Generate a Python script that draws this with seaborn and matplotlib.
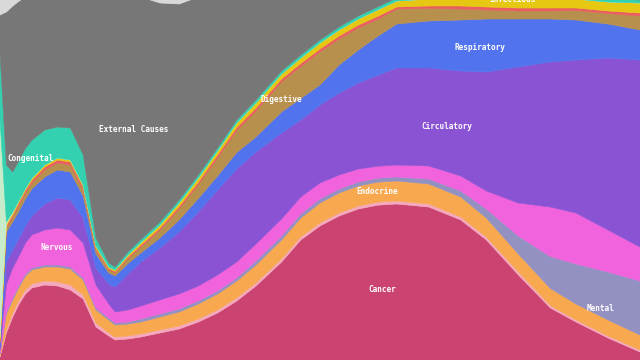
import numpy as np
import pandas as pd
import seaborn as sns
import matplotlib
matplotlib.use("Agg")
import matplotlib.pyplot as plt

sns.set_theme(style="white")
plt.rcParams['font.family'] = ['DejaVu Sans Mono', 'DejaVu Sans']

ages = [0, 1, 2, 3, 4, 5, 7, 9, 11, 13, 15, 17, 18, 20, 22, 25, 28, 31, 34, 37, 40,
        44, 47, 50, 53, 56, 59, 62, 67, 72, 76, 81, 86, 90, 95, 100]

cancer = [3, 27, 43, 56, 66, 72, 75, 74, 70, 61, 33, 24, 20, 21, 23, 27, 31, 38, 47, 59, 74,
          98, 120, 134, 144, 151, 155, 156, 153, 140, 120, 85, 52, 38, 22, 8]
blood = [1, 3, 4, 4, 4, 4, 4, 4, 5, 4, 4, 3, 3, 3, 3, 3, 3, 3, 3, 3, 3,
         3, 3, 3, 3, 3, 3, 3, 3, 3, 3, 3, 2.5, 2, 2, 2]
endocrine = [2, 16, 13, 13, 14, 14, 14, 15, 16, 15, 13, 13, 12, 12, 12, 13, 14, 15, 16, 17, 18,
             19, 19, 20, 20, 20, 20, 20, 20, 20, 19, 18, 17, 16, 16, 15]
mental = [1, 2, 2, 2, 2, 2, 2, 2, 2, 2, 2, 2, 2, 2, 3, 3, 3, 3, 3, 3, 4,
          4, 4, 4, 4, 4, 4, 4, 5, 6, 9, 18, 32, 40, 48, 54]
nervous = [3, 27, 30, 29, 31, 33, 35, 37, 37, 35, 23, 14, 11, 12, 13, 14, 15, 15, 16, 16, 17,
           17, 17, 16, 14, 13, 12, 12, 13, 15, 18, 33, 49.5, 51, 42, 34]
circulatory = [3, 23, 18, 18, 17, 19, 26, 30, 30, 25, 17, 20, 25, 36, 44, 52, 62, 74, 85, 93, 92,
               86, 77, 78, 82, 86, 91, 97, 98, 105, 119, 136, 145, 153, 172, 187]
respiratory = [4, 30, 28, 27, 27, 27, 27, 28, 28, 22, 14, 11, 11, 10.5, 9, 10, 12, 13.5, 14, 16.5, 15,
               21, 21.5, 20, 28, 33, 39, 44, 47, 51, 53, 48, 43, 40, 34, 30]
digestive = [2, 4, 5, 6, 6, 6, 7, 7, 7, 6, 4, 3, 3, 5, 6, 8, 11, 14, 18, 22, 26,
             30, 32, 33, 26, 22, 17, 15, 12.5, 11, 9, 8, 8, 9.5, 10.5, 14]
genitourinary = [1, 2, 2, 2.5, 2.5, 2.5, 3, 3, 3, 3, 2, 1.5, 1.5, 1.5, 2, 2, 2.5, 2.5, 3, 3, 3,
                 3, 3, 3, 3, 3, 3, 2, 2.5, 3, 3, 3, 3, 2.5, 2.5, 3]
infectious = [2, 2, 2, 2, 2, 2.2, 2, 2, 2, 2, 2, 1.5, 1.5, 2, 2.5, 3, 3.5, 4, 4, 4.5, 5,
              5, 5.5, 6, 6, 6, 6.5, 6, 7, 9, 12, 13, 11, 9, 9, 10]
perinatal = [218, 2, 1, 0, 0, 0, 0, 0, 0, 0, 0, 0, 0, 0, 0, 0, 0, 0, 0, 0, 0,
             0, 0, 0, 0, 0, 0, 0, 0, 0, 0, 0, 0, 0, 0, 0]
congenital = [67, 57, 40, 40, 40, 38, 35, 31, 32, 30, 8, 4, 3, 3, 3, 3, 3, 3, 3, 3, 3,
              3, 3, 3, 3, 3, 3, 3, 3, 3, 3, 3, 3, 3, 3, 3]
external = [38, 153, 166, 159, 151, 146, 140, 137, 138, 163, 244, 268, 272, 255, 243, 219, 196, 178, 155, 130, 112,
            85, 70, 56, 44, 34, 25, 16, 15, 14, 12, 12, 14, 16, 19, 20]
other = [55, 52, 46, 41, 37, 34, 30, 30, 30, 32, 34, 35, 35, 37, 37, 43, 44, 37, 33, 30, 28,
         26, 25, 24, 23, 22, 22, 22, 21, 20, 20, 20, 20, 20, 20, 20]

names = ["Cancer", "Blood", "Endocrine", "Mental", "Nervous", "Circulatory", "Respiratory",
         "Digestive", "Genitourinary", "Infectious", "Perinatal", "Congenital",
         "External Causes", "Other"]
series = [cancer, blood, endocrine, mental, nervous, circulatory, respiratory, digestive,
          genitourinary, infectious, perinatal, congenital, external, other]
colors = ["#cb4471", "#f5a9bf", "#f8a84f", "#9391c2", "#f063dc", "#8a53d4", "#5174ee",
          "#b8904e", "#e95e60", "#e6c812", "#c8ecca", "#34d1b1", "#777777", "#d9d9d9"]

df = pd.DataFrame(dict(zip(names, series)), index=ages)
pct = df.div(df.sum(axis=1), axis=0) * 100

fig = plt.figure(figsize=(6.4, 3.6), dpi=100)
ax = fig.add_axes([0, 0, 1, 1])
ax.stackplot(pct.index.values, [pct[n].values for n in names], colors=colors,
             edgecolor="face", linewidth=0.4)
ax.set_xlim(0, 100)
ax.set_ylim(0, 90)
ax.axis("off")

# labels (age, percent)
labels = [("External Causes", 20.9, 57.5), ("Congenital", 4.8, 50.3), ("Nervous", 8.9, 28.0),
          ("Digestive", 43.9, 65.0), ("Respiratory", 75.0, 78.0), ("Circulatory", 69.8, 58.3),
          ("Endocrine", 58.9, 42.0), ("Cancer", 59.8, 17.5), ("Mental", 93.9, 12.8),
          ("Infectious", 80.0, 90.2)]
for t, x, y in labels:
    ax.text(x, y, t, color="white", fontsize=5.6, ha="center", va="center",
            fontfamily=["DejaVu Sans Mono"], fontweight="bold")

fig.savefig("out.png", dpi=100)
